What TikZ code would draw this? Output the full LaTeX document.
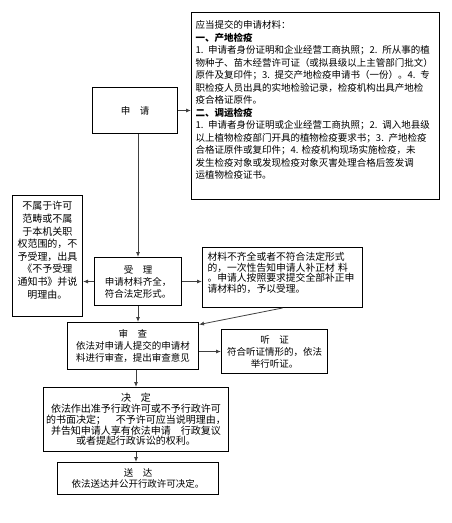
\documentclass[tikz,border=0pt]{standalone}
\usepackage{fontspec}
\newfontfamily\cjk{Noto Sans CJK SC}
\usetikzlibrary{arrows.meta}

\begin{document}
\begin{tikzpicture}[x=1pt,y=-1pt,
  box/.style={draw,line width=1pt,inner sep=0pt,anchor=north west,align=center,
    font=\cjk\fontsize{9.5}{12}\selectfont},
  arr/.style={-{Latex[length=5pt,width=4pt]},line width=.8pt,black!75}]
\useasboundingbox (0,0) rectangle (451,523);

\node[box,minimum width=248pt,minimum height=187pt,text width=240pt,align=left,
  font=\cjk\fontsize{9.5}{12.5}\selectfont] (material) at (191,12)
  {应当提交的申请材料：\\
   \textbf{一、产地检疫}\\
   1. 申请者身份证明和企业经营工商执照；2. 所从事的植\\
   物种子、苗木经营许可证（或拟县级以上主管部门批文）\\
   原件及复印件；3. 提交产地检疫申请书（一份）。4. 专\\
   职检疫人员出具的实地检验记录，检疫机构出具产地检\\
   疫合格证原件。\\
   \textbf{二、调运检疫}\\
   1. 申请者身份证明或企业经营工商执照；2. 调入地县级\\
   以上植物检疫部门开具的植物检疫要求书；3. 产地检疫\\
   合格证原件或复印件；4.\ 检疫机构现场实施检疫，未\\
   发生检疫对象或发现检疫对象灭害处理合格后签发调\\
   运植物检疫证书。\\ \mbox{}};

\node[box,minimum width=85pt,minimum height=46pt] (apply) at (92,87) {申　请};

\node[box,minimum width=70pt,minimum height=121pt,text width=66pt,
  font=\cjk\fontsize{10}{12.6}\selectfont] (reject) at (12,195)
  {不属于许可\\范畴或不属\\于本机关职\\权范围的，不\\予受理，出具\\《不予受理\\通知书》并说\\明理由。\\ \mbox{}};

\node[box,minimum width=87pt,minimum height=48pt] (accept) at (94,257)
  {受　理\\申请材料齐全，\\符合法定形式。};

\node[box,minimum width=160pt,minimum height=60pt,text width=150pt,align=left,
  font=\cjk\fontsize{9.8}{10.5}\selectfont] (correct) at (202,247)
  {材料不齐全或者不符合法定形式\\的，一次性告知申请人补正材\ 料\\。申请人按照要求提交全部补正申\\请材料的，予以受理。\\ \mbox{}};

\node[box,minimum width=131pt,minimum height=47pt] (review) at (67,322)
  {审　查\\依法对申请人提交的申请材\\料进行审查，提出审查意见};

\node[box,minimum width=106pt,minimum height=44pt] (hearing) at (221,329)
  {听　证\\符合听证情形的，依法\\举行听证。};

\node[box,minimum width=185pt,minimum height=64pt,
  font=\cjk\fontsize{10}{10.8}\selectfont] (decide) at (43,387)
  {决　定\\依法作出准予行政许可或不予行政许可\\的书面决定；　不予许可应当说明理由，\\并告知申请人享有依法申请　行政复议\\或者提起行政诉讼的权利。};

\node[box,minimum width=161pt,minimum height=32pt,
  font=\cjk\fontsize{9.5}{11}\selectfont] (deliver) at (57,462)
  {送　达\\依法送达并公开行政许可决定。};

\draw[arr] (apply.east) -- (apply.east -| material.west);
\draw[arr] (apply.south -| accept.north) -- (accept.north);
\draw[arr] (accept.west) -- (accept.west -| reject.east);
\draw[arr] (accept.east) -- (accept.east -| correct.west);
\draw[arr] (accept.south) -- (accept.south |- review.north);
\draw[arr] (correct.south) -- (review.18);
\draw[arr] (review.east |- hearing.west) -- (hearing.west);
\draw[arr] (review.south -| decide.north) -- (decide.north);
\draw[arr] (decide.south) -- (decide.south |- deliver.north);

\end{tikzpicture}
\end{document}
